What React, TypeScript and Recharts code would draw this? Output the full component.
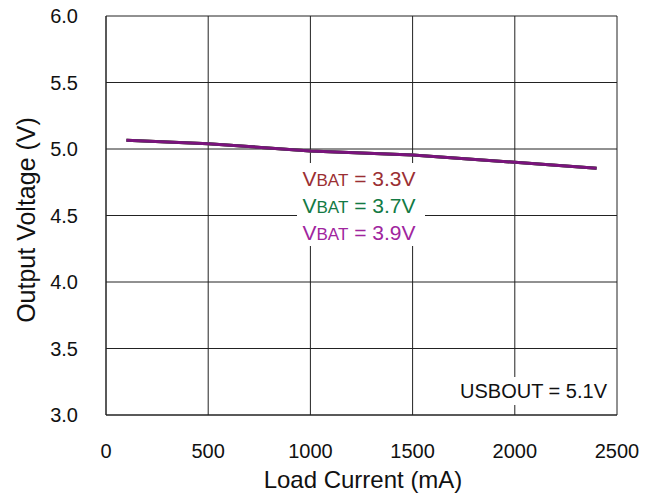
import React from "react";
import { LineChart, Line, XAxis, YAxis, CartesianGrid, Customized } from "recharts";

const loadCurrent = [100, 500, 1000, 1500, 2000, 2400];
const vbat33 = [5.065, 5.04, 4.985, 4.955, 4.9, 4.855];
const vbat37 = [5.065, 5.04, 4.985, 4.955, 4.9, 4.855];
const vbat39 = [5.065, 5.04, 4.985, 4.955, 4.9, 4.855];
const xTicks = [0, 500, 1000, 1500, 2000, 2500];
const yTicks = [3.0, 3.5, 4.0, 4.5, 5.0, 5.5, 6.0];

const data = loadCurrent.map((x, i) => ({ x, a: vbat33[i], b: vbat37[i], c: vbat39[i] }));

const FONT = "'Liberation Sans', Arial, Helvetica, sans-serif";

const Annotations = () => (
  <g fontFamily={FONT}>
    <rect x={297} y={163} width={128} height={83} fill="#fff" />
    <text x={359} y={186} textAnchor="middle" fontSize={21} fill="#9b2f33">
      V<tspan fontSize={17}>BAT</tspan> = 3.3V
    </text>
    <text x={359} y={213} textAnchor="middle" fontSize={21} fill="#137a44">
      V<tspan fontSize={17}>BAT</tspan> = 3.7V
    </text>
    <text x={359} y={240} textAnchor="middle" fontSize={21} fill="#a0259e">
      V<tspan fontSize={17}>BAT</tspan> = 3.9V
    </text>
    <rect x={452} y={377} width={160} height={28} fill="#fff" />
    <text x={607} y={398} textAnchor="end" fontSize={20} fill="#111">USBOUT = 5.1V</text>
    <text x={363} y={488} textAnchor="middle" fontSize={24} fill="#111">Load Current (mA)</text>
    <text x={0} y={0} transform="translate(35,220) rotate(-90)" textAnchor="middle" fontSize={25} fill="#111">
      Output Voltage (V)
    </text>
  </g>
);

export default function App() {
  return (
    <div style={{ position: "absolute", left: 0, top: 0, width: 657, height: 496, background: "#fff" }}>
      <LineChart
        width={657}
        height={496}
        data={data}
        margin={{ top: 16, right: 40, bottom: 21, left: 46 }}
      >
        <CartesianGrid stroke="#222" strokeWidth={1} horizontalValues={yTicks} verticalValues={xTicks} />
        <XAxis
          dataKey="x"
          type="number"
          domain={[0, 2500]}
          ticks={xTicks}
          height={60}
          axisLine={{ stroke: "#222" }}
          tickLine={false}
          tickMargin={23}
          tick={{ fontSize: 20, fill: "#111", fontFamily: FONT }}
        />
        <YAxis
          type="number"
          domain={[3, 6]}
          ticks={yTicks}
          width={60}
          axisLine={{ stroke: "#222" }}
          tickLine={false}
          tickMargin={22}
          tickFormatter={(v: number) => v.toFixed(1)}
          tick={{ fontSize: 20, fill: "#111", fontFamily: FONT }}
        />
        <Line dataKey="a" stroke="#9b2f33" strokeWidth={3} dot={false} isAnimationActive={false} />
        <Line dataKey="b" stroke="#137a44" strokeWidth={3} dot={false} isAnimationActive={false} />
        <Line dataKey="c" stroke="#7a137c" strokeWidth={3} dot={false} isAnimationActive={false} />
        <Customized component={Annotations} />
      </LineChart>
    </div>
  );
}
